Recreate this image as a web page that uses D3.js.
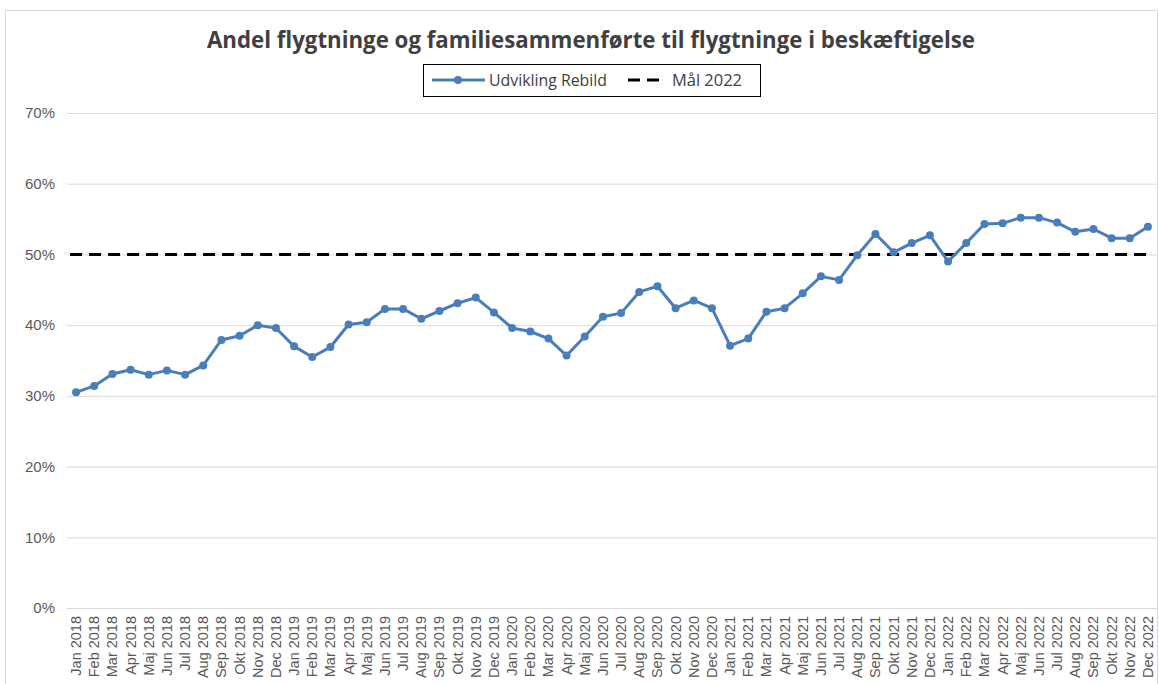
<!DOCTYPE html>
<html>
<head>
<meta charset="utf-8">
<script src="https://cdn.jsdelivr.net/npm/d3@7"></script>
<style>
  body { margin: 0; background: #fff; }
  svg { display: block; }
</style>
</head>
<body>
<div id="chart"></div>
<script>
const months = ["Jan", "Feb", "Mar", "Apr", "Maj", "Jun", "Jul", "Aug", "Sep", "Okt", "Nov", "Dec"];
const years = [2018, 2019, 2020, 2021, 2022];
const labels = years.flatMap(y => months.map(m => `${m} ${y}`));

// andel i beskæftigelse (%)
const rebild = [
    30.5, 31.4, 33.1, 33.7, 33.0, 33.6, 33.0, 34.3, 37.9, 38.5, 40.0, 39.6,
    37.0, 35.5, 36.9, 40.1, 40.4, 42.3, 42.3, 40.9, 42.0, 43.1, 43.9, 41.8,
    39.6, 39.1, 38.1, 35.7, 38.4, 41.2, 41.7, 44.7, 45.5, 42.4, 43.5, 42.4,
    37.1, 38.1, 41.9, 42.4, 44.5, 46.9, 46.4, 49.9, 52.9, 50.3, 51.6, 52.7,
    49.0, 51.6, 54.3, 54.4, 55.2, 55.2, 54.5, 53.2, 53.6, 52.3, 52.3, 53.9
];
const goal = 50;
const yTicks = [0, 10, 20, 30, 40, 50, 60, 70];

const width = 1159,
    height = 684,
    margin = ({ top: 113, right: 2, bottom: 76, left: 67 });

const blue = "#4a7ebb",
    textColor = "#595959";

const svg = d3.select("#chart")
    .append("svg")
    .attr("width", width)
    .attr("height", height)
    .style("font-family", "'Open Sans', sans-serif");

// ramme om diagrammet
svg.append("rect")
    .attr("x", 5.5).attr("y", 10.5)
    .attr("width", width - 7).attr("height", height - 6)
    .attr("fill", "none")
    .attr("stroke", "#d9d9d9");

let x = d3.scaleBand()
    .domain(labels)
    .range([margin.left, width - margin.right]);

let y = d3.scaleLinear()
    .domain([0, 70])
    .range([height - margin.bottom, margin.top]);

const cx = d => x(d) + x.bandwidth() / 2;

// gitterlinjer + y-akse
svg.append("g")
    .attr("class", "y-axis")
    .attr("transform", `translate(${margin.left},0)`)
    .call(d3.axisLeft(y).tickValues(yTicks).tickFormat(d => d + "%")
        .tickSize(-(width - margin.left - margin.right)).tickPadding(12))
    .call(g => g.select(".domain").remove())
    .call(g => g.selectAll(".tick line").attr("stroke", "#d9d9d9"))
    .call(g => g.selectAll(".tick text")
        .attr("fill", textColor)
        .attr("font-size", 15));

// x-akse
svg.append("g")
    .attr("class", "x-axis")
    .attr("transform", `translate(0,${height - margin.bottom})`)
    .call(d3.axisBottom(x).tickSize(0).tickPadding(0))
    .call(g => g.select(".domain").attr("stroke", "#d9d9d9"))
    .call(g => g.selectAll(".tick text")
        .attr("fill", textColor)
        .attr("font-size", 14.5)
        .attr("text-anchor", "end")
        .attr("dy", "0.35em")
        .attr("transform", "translate(0,8) rotate(-90)"));

// mål 2022
svg.append("line")
    .attr("x1", cx(labels[0]) - 6)
    .attr("x2", cx(labels[labels.length - 1]))
    .attr("y1", y(goal))
    .attr("y2", y(goal))
    .attr("stroke", "black")
    .attr("stroke-width", 3)
    .attr("stroke-dasharray", "12,7");

// udvikling Rebild
const line = d3.line()
    .x((d, i) => cx(labels[i]))
    .y(d => y(d));

svg.append("path")
    .datum(rebild)
    .attr("fill", "none")
    .attr("stroke", blue)
    .attr("stroke-width", 3)
    .attr("stroke-linejoin", "round")
    .attr("d", line);

svg.append("g")
    .attr("fill", blue)
    .selectAll("circle")
    .data(rebild)
    .join("circle")
    .attr("cx", (d, i) => cx(labels[i]))
    .attr("cy", d => y(d))
    .attr("r", 4);

// titel
svg.append("text")
    .attr("x", 591)
    .attr("y", 48)
    .attr("text-anchor", "middle")
    .attr("font-size", 23)
    .attr("font-weight", "bold")
    .attr("fill", "#404040")
    .attr("textLength", 768)
    .attr("lengthAdjust", "spacingAndGlyphs")
    .text("Andel flygtninge og familiesammenførte til flygtninge i beskæftigelse");

// signaturforklaring
const legend = svg.append("g");
legend.append("rect")
    .attr("x", 423.5).attr("y", 64.5)
    .attr("width", 337).attr("height", 32)
    .attr("fill", "white")
    .attr("stroke", "black");

legend.append("line")
    .attr("x1", 432).attr("x2", 485)
    .attr("y1", 80).attr("y2", 80)
    .attr("stroke", blue).attr("stroke-width", 3);
legend.append("circle")
    .attr("cx", 458).attr("cy", 80).attr("r", 4)
    .attr("fill", blue);
legend.append("text")
    .attr("x", 489).attr("y", 86)
    .attr("font-size", 16)
    .attr("fill", "#404040")
    .attr("textLength", 118)
    .attr("lengthAdjust", "spacingAndGlyphs")
    .text("Udvikling Rebild");

legend.append("line")
    .attr("x1", 628).attr("x2", 666)
    .attr("y1", 80).attr("y2", 80)
    .attr("stroke", "black").attr("stroke-width", 3)
    .attr("stroke-dasharray", "12,7");
legend.append("text")
    .attr("x", 672).attr("y", 86)
    .attr("font-size", 16)
    .attr("fill", "#404040")
    .attr("textLength", 70)
    .attr("lengthAdjust", "spacingAndGlyphs")
    .text("Mål 2022");
</script>
</body>
</html>
